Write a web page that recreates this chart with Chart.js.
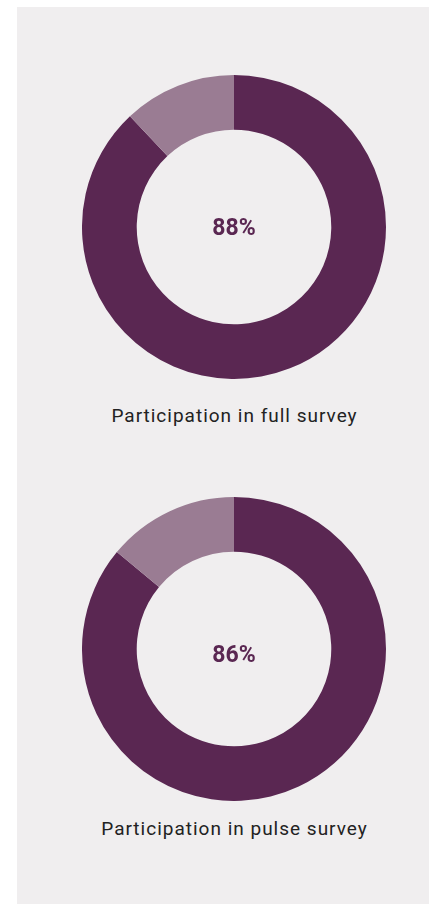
<!DOCTYPE html>
<html>
<head>
<meta charset="utf-8">
<script src="https://cdn.jsdelivr.net/npm/chart.js@4"></script>
<style>
  body { margin: 0; background: #ffffff; width: 429px; height: 904px; overflow: hidden; }
  #panel { position: absolute; left: 17px; top: 7px; width: 412px; height: 897px; background: #f0eeef; }
  canvas { position: absolute; }
  .label { position: absolute; left: 17px; width: 435px; text-align: center; font-family: Roboto, sans-serif; font-size: 19px; letter-spacing: 1px; color: #222222; line-height: 22px; }
</style>
</head>
<body>
<div id="panel"></div>
<canvas id="fullChart" width="304" height="304" style="left:82px; top:75px;"></canvas>
<div class="label" id="fullLabel" style="top:405px;"></div>
<canvas id="pulseChart" width="304" height="304" style="left:82px; top:497px;"></canvas>
<div class="label" id="pulseLabel" style="top:818px;"></div>
<script>
const segments = ['Participated', 'Did not participate'];
const fullSurvey = [88, 12];
const pulseSurvey = [86, 14];
const titles = ['Participation in full survey', 'Participation in pulse survey'];
const colors = ['#5a2752', '#9a7c93'];

const centerText = {
  id: 'centerText',
  afterDraw: (chart, args, opts) => {
    const { ctx, chartArea: { left, right, top, bottom } } = chart;
    ctx.save();
    ctx.fillStyle = opts.color;
    ctx.font = 'bold 23px Roboto, sans-serif';
    ctx.textAlign = 'center';
    ctx.textBaseline = 'middle';
    ctx.fillText(opts.text, (left + right) / 2, (top + bottom) / 2 + opts.dy);
    ctx.restore();
  }
};

function makeDonut(id, values, dy) {
  return new Chart(document.getElementById(id), {
    type: 'doughnut',
    data: {
      labels: segments,
      datasets: [{
        data: values,
        backgroundColor: colors,
        borderWidth: 0,
      }]
    },
    options: {
      responsive: false,
      animation: false,
      cutout: '64%',
      layout: { padding: 0 },
      plugins: {
        legend: { display: false },
        tooltip: { enabled: false },
        centerText: { text: values[0] + '%', color: '#5a2752', dy: dy }
      }
    },
    plugins: [centerText]
  });
}

makeDonut('fullChart', fullSurvey, 2);
makeDonut('pulseChart', pulseSurvey, 7);
document.getElementById('fullLabel').textContent = titles[0];
document.getElementById('pulseLabel').textContent = titles[1];
</script>
</body>
</html>
